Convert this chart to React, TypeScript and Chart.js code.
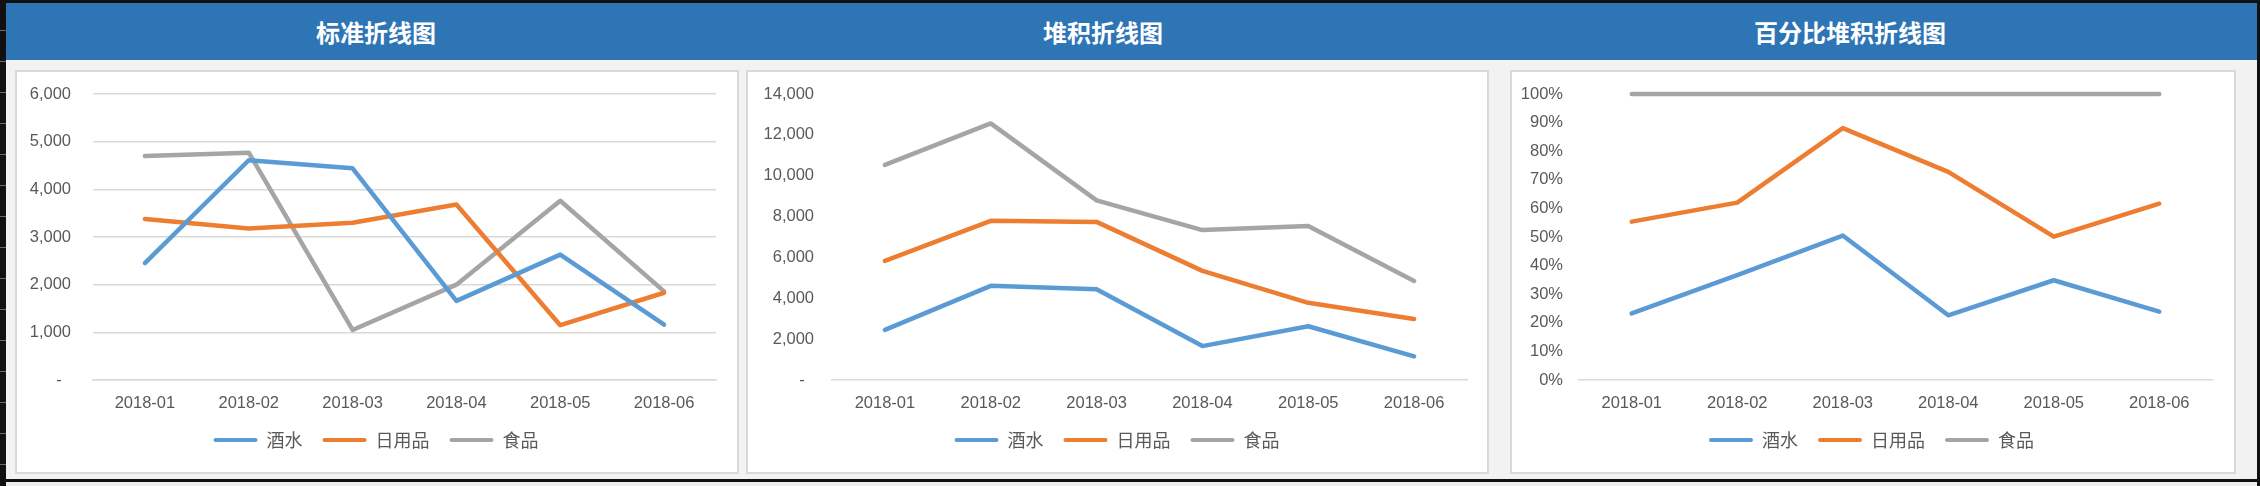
import React, { useEffect, useRef } from "react";
import { Chart, registerables } from "chart.js";

Chart.register(...registerables);

const categories = ["2018-01", "2018-02", "2018-03", "2018-04", "2018-05", "2018-06"];
const liquor = [2450, 4610, 4440, 1660, 2630, 1160];
const daily = [3380, 3180, 3300, 3680, 1150, 1830];
const food = [4700, 4770, 1050, 2000, 3760, 1860];
const seriesNames = ["酒水", "日用品", "食品"];
const seriesColors = ["#5B9BD5", "#ED7D31", "#A5A5A5"];
const titles = ["标准折线图", "堆积折线图", "百分比堆积折线图"];

const TICK_FONT = { family: "'Liberation Sans', Arial, sans-serif", size: 16.5 };
const LEGEND_FONT = { family: "'Noto Sans CJK SC', sans-serif", size: 18 };
const TEXT_COLOR = "#595959";
const GRID_COLOR = "#D9D9D9";

type Kind = "normal" | "stacked" | "percent";

interface PanelSpec {
  kind: Kind;
  left: number;
  width: number;
  titleCenter: number;
  plotLeft: number;
  padRight: number;
  tickPad: number;
  legendCenter: number;
}

const panels: PanelSpec[] = [
  { kind: "normal", left: 15, width: 724, titleCenter: 376, plotLeft: 76, padRight: 21, tickPad: 22, legendCenter: 359 },
  { kind: "stacked", left: 746, width: 743, titleCenter: 1103, plotLeft: 84, padRight: 20, tickPad: 18, legendCenter: 369 },
  { kind: "percent", left: 1510, width: 726, titleCenter: 1850, plotLeft: 67, padRight: 22, tickPad: 16, legendCenter: 359.5 },
];

const PANEL_TOP = 70;
const PANEL_H = 404;
const BORDER = 2;
const PLOT_TOP = 22;
const PLOT_BOTTOM = 308;
const LEGEND_Y = 368;
const LEGEND_PAD = 20;

function buildSeries(kind: Kind): number[][] {
  const raw = [liquor, daily, food];
  if (kind !== "percent") return raw;
  const totals = categories.map((_, i) => liquor[i] + daily[i] + food[i]);
  return raw.map((arr) => arr.map((v, i) => (v / totals[i]) * 100));
}

function ChartPanel({ spec }: { spec: PanelSpec }) {
  const ref = useRef<HTMLCanvasElement | null>(null);
  const cw = spec.width - BORDER * 2;
  const ch = PANEL_H - BORDER * 2;

  useEffect(() => {
    if (!ref.current) return;
    const series = buildSeries(spec.kind);
    const legendHeight = LEGEND_FONT.size + LEGEND_PAD + 10;
    const xHeight = ch - legendHeight - PLOT_BOTTOM;

    const yMax = spec.kind === "normal" ? 6000 : spec.kind === "stacked" ? 14000 : 100;
    const yStep = spec.kind === "normal" ? 1000 : spec.kind === "stacked" ? 2000 : 10;

    const legendPlace = {
      id: "legendPlace",
      beforeDraw(c: any) {
        const lg = c.legend;
        if (!lg) return;
        lg.left = 0;
        lg.right = spec.legendCenter * 2;
        lg.top = LEGEND_Y - LEGEND_PAD - LEGEND_FONT.size / 2;
      },
    };

    const chart = new Chart(ref.current, {
      type: "line",
      data: {
        labels: categories,
        datasets: series.map((data, i) => ({
          label: seriesNames[i],
          data,
          borderColor: seriesColors[i],
          backgroundColor: seriesColors[i],
          borderWidth: 4.5,
          borderCapStyle: "round" as const,
          borderJoinStyle: "round" as const,
          pointRadius: 0,
          pointHoverRadius: 0,
          tension: 0,
          fill: false,
          clip: false as any,
        })),
      },
      plugins: [legendPlace],
      options: {
        responsive: false,
        animation: false,
        devicePixelRatio: 1,
        layout: { padding: { left: 0, right: spec.padRight, top: PLOT_TOP, bottom: 0 } },
        plugins: {
          tooltip: { enabled: false },
          legend: {
            position: "bottom",
            labels: {
              font: LEGEND_FONT,
              color: TEXT_COLOR,
              boxWidth: 44,
              boxHeight: 4,
              padding: LEGEND_PAD,
              useBorderRadius: true,
              borderRadius: 2,
              generateLabels: (c: any) =>
                c.data.datasets.map((ds: any, i: number) => ({
                  text: ds.label,
                  fillStyle: ds.borderColor,
                  strokeStyle: ds.borderColor,
                  lineWidth: 0,
                  hidden: false,
                  datasetIndex: i,
                  borderRadius: 2,
                  fontColor: TEXT_COLOR,
                })),
            },
          },
        },
        scales: {
          x: {
            offset: true,
            grid: { display: false, drawTicks: false },
            border: { display: true, color: GRID_COLOR, width: 1.5 },
            ticks: { font: TICK_FONT, color: TEXT_COLOR, padding: 14, maxRotation: 0 },
            afterFit: (scale: any) => {
              scale.height = xHeight;
            },
          },
          y: {
            stacked: spec.kind !== "normal",
            min: 0,
            max: yMax,
            grid: {
              display: spec.kind === "normal",
              color: GRID_COLOR,
              lineWidth: 1.5,
              drawTicks: false,
            },
            border: { display: false },
            ticks: {
              stepSize: yStep,
              font: TICK_FONT,
              color: TEXT_COLOR,
              padding: spec.tickPad,
              callback: (v: any) => {
                const n = Number(v);
                if (spec.kind === "percent") return `${Math.round(n)}%`;
                if (n === 0) return "-  ";
                return n.toLocaleString("en-US");
              },
            },
            afterFit: (scale: any) => {
              scale.width = spec.plotLeft;
              scale.paddingTop = 0;
              scale.paddingBottom = 0;
            },
          },
        },
      },
    });
    return () => chart.destroy();
  }, []);

  return (
    <div
      style={{
        position: "absolute",
        left: spec.left,
        top: PANEL_TOP,
        width: spec.width,
        height: PANEL_H,
        boxSizing: "border-box",
        border: `${BORDER}px solid #D9D9D9`,
        background: "#FFFFFF",
      }}
    >
      <canvas ref={ref} width={cw} height={ch} style={{ display: "block", width: cw, height: ch }} />
    </div>
  );
}

export default function App() {
  return (
    <div
      style={{
        position: "fixed",
        left: 0,
        top: 0,
        width: 2260,
        height: 486,
        background: "#111111",
        overflow: "hidden",
      }}
    >
      <div
        style={{
          position: "absolute",
          left: 0,
          top: 0,
          width: 6,
          height: 486,
          background:
            "repeating-linear-gradient(to bottom, #111111 0px, #111111 30px, #6a6a6a 30px, #6a6a6a 31px)",
        }}
      />
      <div style={{ position: "absolute", left: 6, top: 3, width: 2251, height: 57, background: "#2E75B6" }} />
      <div style={{ position: "absolute", left: 6, top: 60, width: 2251, height: 419, background: "#F2F2F2" }} />
      <div style={{ position: "absolute", left: 6, top: 482, width: 2251, height: 4, background: "#EDEDED" }} />
      {panels.map((p, i) => (
        <div
          key={"t" + i}
          style={{
            position: "absolute",
            left: p.titleCenter - 300,
            width: 600,
            top: 3,
            height: 57,
            display: "flex",
            alignItems: "center",
            justifyContent: "center",
            color: "#FFFFFF",
            fontFamily: "'Noto Sans CJK SC', sans-serif",
            fontWeight: 700,
            fontSize: 24,
            lineHeight: 1,
          }}
        >
          {titles[i]}
        </div>
      ))}
      {panels.map((p, i) => (
        <ChartPanel key={"c" + i} spec={p} />
      ))}
    </div>
  );
}
